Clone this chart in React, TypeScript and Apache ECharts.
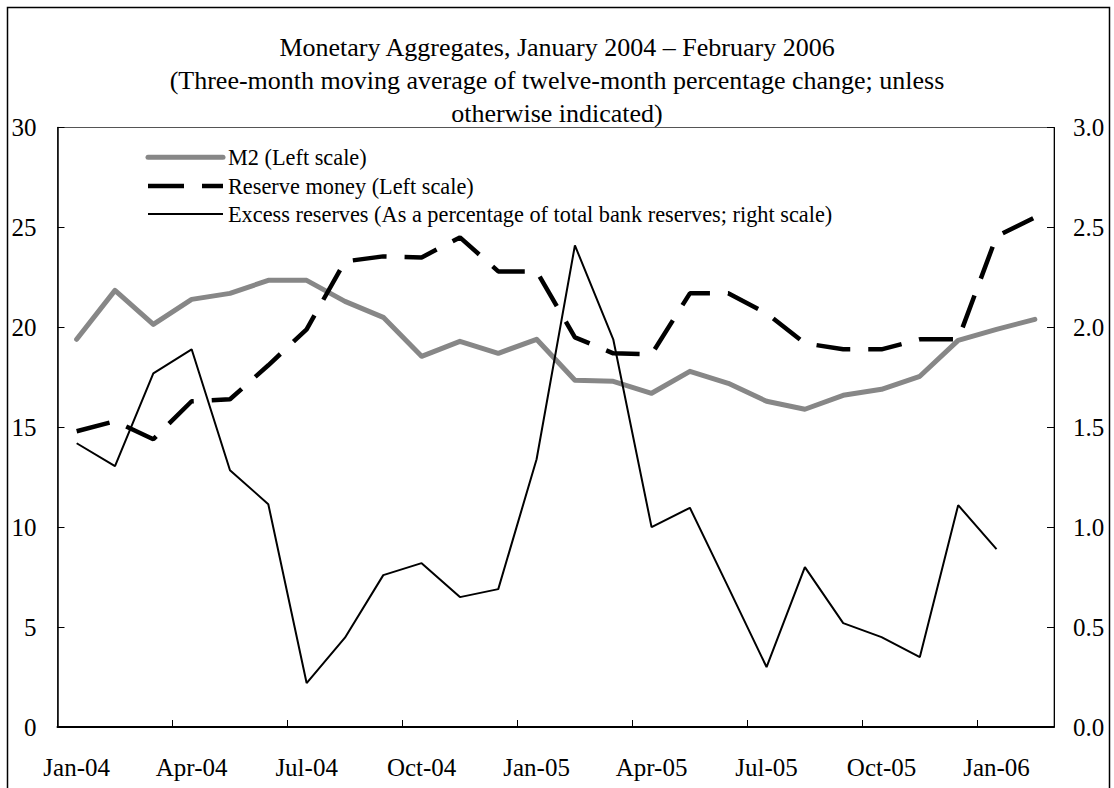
import React, { useEffect, useRef } from "react";
import * as echarts from "echarts";

const FONT = "'Times New Roman', 'Liberation Serif', serif";

const titleLines = [
  "Monetary Aggregates, January 2004 – February 2006",
  "(Three-month moving average of twelve-month percentage change; unless",
  "otherwise indicated)",
];

const months = [
  "Jan-04", "Feb-04", "Mar-04", "Apr-04", "May-04", "Jun-04", "Jul-04", "Aug-04", "Sep-04", "Oct-04", "Nov-04", "Dec-04",
  "Jan-05", "Feb-05", "Mar-05", "Apr-05", "May-05", "Jun-05", "Jul-05", "Aug-05", "Sep-05", "Oct-05", "Nov-05", "Dec-05",
  "Jan-06", "Feb-06",
];

const m2 = [
  19.4, 21.85, 20.15, 21.4, 21.7, 22.35, 22.35, 21.3, 20.5, 18.55, 19.3, 18.7,
  19.4, 17.35, 17.3, 16.7, 17.8, 17.2, 16.3, 15.9, 16.6, 16.9, 17.55, 19.35,
  19.9, 20.4,
];

const reserveMoney = [
  14.8, 15.3, 14.4, 16.3, 16.4, 18.1, 19.9, 23.3, 23.55, 23.5, 24.5, 22.8,
  22.8, 19.5, 18.7, 18.65, 21.7, 21.7, 20.7, 19.2, 18.9, 18.9, 19.4, 19.4,
  24.55, 25.5,
];

const excessReserves = [
  1.42, 1.305, 1.77, 1.89, 1.285, 1.115, 0.22, 0.447, 0.76, 0.82, 0.65, 0.69,
  1.34, 2.41, 1.94, 1.0, 1.097, 0.7, 0.3, 0.8, 0.52, 0.45, 0.35, 1.11,
  0.89, null,
];

const seriesNames = [
  "M2 (Left scale)",
  "Reserve money (Left scale)",
  "Excess reserves (As a percentage of total bank reserves; right scale)",
];

export default function App() {
  const ref = useRef<HTMLDivElement>(null);

  useEffect(() => {
    if (!ref.current) return;
    const chart = echarts.init(ref.current, undefined, { renderer: "svg" });

    const legendX1 = 148;
    const legendX2 = 223;
    const legendTextX = 228;
    const legendYs = [157.3, 186, 214];

    const option: any = {
      animation: false,
      backgroundColor: "#ffffff",
      title: {
        text: titleLines.join("\n"),
        left: "center",
        top: 26,
        textStyle: {
          fontFamily: FONT,
          fontSize: 26,
          fontWeight: "normal",
          color: "#000",
          lineHeight: 33,
        },
      },
      grid: {
        left: 57.5,
        right: 60,
        top: 127.5,
        bottom: 61,
        show: true,
        borderColor: "#555",
        borderWidth: 1,
        containLabel: false,
      },
      xAxis: {
        type: "category",
        data: months,
        boundaryGap: true,
        axisLine: { show: true, lineStyle: { color: "#000", width: 2 } },
        axisTick: {
          show: true,
          inside: true,
          length: 7,
          interval: 2,
          lineStyle: { color: "#000", width: 1 },
        },
        axisLabel: {
          interval: 2,
          margin: 28,
          fontFamily: FONT,
          fontSize: 25,
          color: "#000",
        },
        splitLine: { show: false },
      },
      yAxis: [
        {
          type: "value",
          min: 0,
          max: 30,
          interval: 5,
          position: "left",
          axisLine: { show: true, lineStyle: { color: "#000", width: 1.5 } },
          axisTick: { show: true, inside: true, length: 7, lineStyle: { color: "#000", width: 1 } },
          axisLabel: { margin: 21, fontFamily: FONT, fontSize: 25, color: "#000" },
          splitLine: { show: false },
        },
        {
          type: "value",
          min: 0,
          max: 3,
          interval: 0.5,
          position: "right",
          axisLine: { show: true, lineStyle: { color: "#000", width: 1 } },
          axisTick: { show: true, inside: true, length: 7, lineStyle: { color: "#000", width: 1 } },
          axisLabel: {
            margin: 19,
            fontFamily: FONT,
            fontSize: 25,
            color: "#000",
            formatter: (v: number) => v.toFixed(1),
          },
          splitLine: { show: false },
        },
      ],
      series: [
        {
          name: seriesNames[0],
          type: "line",
          yAxisIndex: 0,
          data: m2,
          symbol: "none",
          lineStyle: { color: "#878787", width: 5, cap: "round", join: "round" },
          z: 2,
        },
        {
          name: seriesNames[1],
          type: "line",
          yAxisIndex: 0,
          data: reserveMoney,
          symbol: "none",
          lineStyle: { color: "#000", width: 4.5, type: [34, 18], cap: "butt" },
          z: 3,
        },
        {
          name: seriesNames[2],
          type: "line",
          yAxisIndex: 1,
          data: excessReserves,
          symbol: "none",
          connectNulls: false,
          lineStyle: { color: "#000", width: 2 },
          z: 4,
        },
      ],
      graphic: [
        {
          type: "rect",
          silent: true,
          z: 100,
          shape: { x: 7.5, y: 7.5, width: 1102, height: 820 },
          style: { fill: "none", stroke: "#000", lineWidth: 1.5 },
        },
        {
          type: "line",
          silent: true,
          shape: { x1: legendX1, y1: legendYs[0], x2: legendX2, y2: legendYs[0] },
          style: { stroke: "#878787", lineWidth: 5, lineCap: "round" },
        },
        {
          type: "line",
          silent: true,
          shape: { x1: legendX1, y1: legendYs[1], x2: legendX2, y2: legendYs[1] },
          style: { stroke: "#000", lineWidth: 4.5, lineDash: [36, 18] },
        },
        {
          type: "line",
          silent: true,
          shape: { x1: legendX1, y1: legendYs[2], x2: legendX2, y2: legendYs[2] },
          style: { stroke: "#000", lineWidth: 2 },
        },
        ...seriesNames.map((name, i) => ({
          type: "text",
          silent: true,
          x: legendTextX,
          y: legendYs[i],
          style: {
            text: name,
            fontFamily: FONT,
            fontSize: 22.3,
            fill: "#000",
            verticalAlign: "middle",
          },
        })),
      ],
    };

    chart.setOption(option);
    return () => chart.dispose();
  }, []);

  return (
    <div
      ref={ref}
      style={{ position: "fixed", left: 0, top: 0, width: 1114, height: 788 }}
    />
  );
}
